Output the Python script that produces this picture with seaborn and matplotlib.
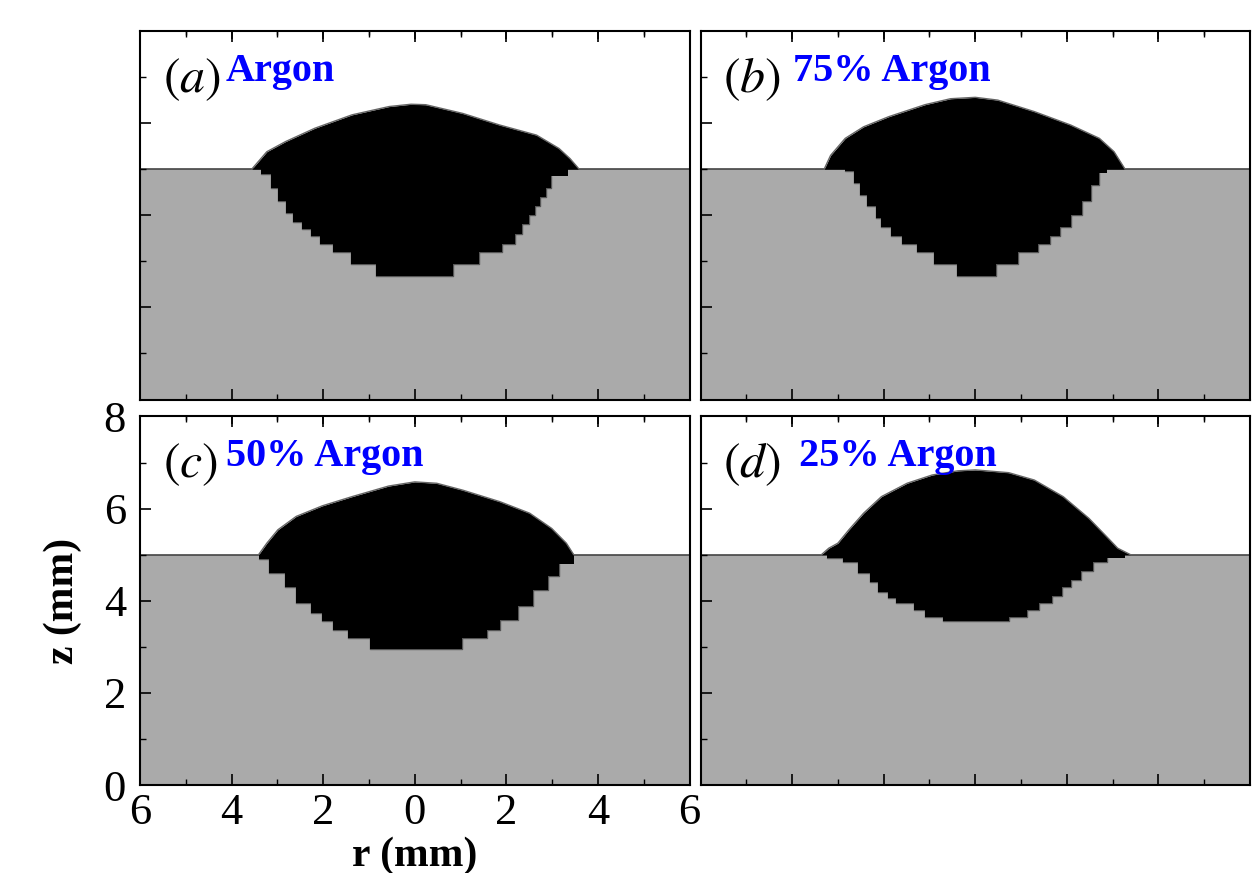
import matplotlib
matplotlib.use("Agg")
import matplotlib.pyplot as plt
import seaborn as sns
import numpy as np

# panel tags and shielding gas
panel_tags = ["(a)", "(b)", "(c)", "(d)"]
gas_names = ["Argon", "75% Argon", "50% Argon", "25% Argon"]

# crown (weld bead above the surface z=5)
crown_r_a = [-3.56, -3.23, -2.82, -2.18, -1.37, -0.56, -0.08, 0.24, 1.05, 1.85, 2.66, 3.15, 3.39, 3.59]
crown_z_a = [5.0, 5.38, 5.60, 5.89, 6.18, 6.36, 6.41, 6.40, 6.21, 5.96, 5.74, 5.45, 5.23, 5.0]
crown_r_b = [-3.30, -3.16, -2.84, -2.44, -1.89, -1.10, -0.54, 0.0, 0.49, 1.29, 2.08, 2.71, 3.03, 3.27]
crown_z_b = [5.0, 5.30, 5.67, 5.92, 6.14, 6.40, 6.53, 6.56, 6.50, 6.25, 5.96, 5.67, 5.38, 5.0]
crown_r_c = [-3.41, -3.23, -2.99, -2.59, -2.02, -1.37, -0.57, 0.0, 0.48, 1.05, 1.86, 2.51, 2.99, 3.31, 3.47]
crown_z_c = [5.0, 5.25, 5.54, 5.83, 6.06, 6.26, 6.49, 6.58, 6.55, 6.40, 6.15, 5.90, 5.57, 5.25, 5.0]
crown_r_d = [-3.36, -3.20, -3.00, -2.76, -2.44, -2.05, -1.49, -0.94, -0.38, 0.0, 0.73, 1.29, 1.92, 2.48, 2.87, 3.11, 3.39]
crown_z_d = [5.0, 5.14, 5.25, 5.54, 5.90, 6.26, 6.55, 6.73, 6.82, 6.84, 6.78, 6.62, 6.26, 5.79, 5.39, 5.14, 5.0]

# fusion zone below the surface (mesh cells, step profile)
pool_r_a = [-3.35, -3.15, -2.98, -2.82, -2.66, -2.46, -2.26, -2.06, -1.79, -1.39, -0.85, 0.83, 1.41, 1.90, 2.18, 2.35, 2.50, 2.62, 2.74, 2.86, 2.98, 3.35]
pool_z_a = [4.90, 4.60, 4.30, 4.05, 3.85, 3.71, 3.56, 3.38, 3.20, 2.94, 2.69, 2.94, 3.20, 3.38, 3.60, 3.80, 4.00, 4.20, 4.40, 4.60, 4.85, 5.0]
pool_r_b = [-2.84, -2.64, -2.52, -2.37, -2.17, -2.05, -1.85, -1.61, -1.27, -0.90, -0.40, 0.45, 0.93, 1.37, 1.64, 1.84, 2.08, 2.32, 2.52, 2.71, 2.87]
pool_z_b = [4.95, 4.70, 4.45, 4.20, 3.95, 3.74, 3.56, 3.38, 3.20, 2.94, 2.69, 2.94, 3.20, 3.38, 3.56, 3.74, 4.00, 4.30, 4.65, 4.92, 5.0]
pool_r_c = [-3.41, -3.19, -2.83, -2.59, -2.26, -2.02, -1.78, -1.45, -0.97, 1.03, 1.58, 1.86, 2.26, 2.59, 2.91, 3.15, 3.47]
pool_z_c = [4.90, 4.60, 4.30, 3.95, 3.73, 3.55, 3.37, 3.19, 2.95, 3.19, 3.37, 3.59, 3.88, 4.24, 4.53, 4.80, 5.0]
pool_r_d = [-3.24, -2.88, -2.56, -2.30, -2.13, -1.90, -1.73, -1.33, -1.10, -0.70, 0.73, 1.13, 1.40, 1.68, 1.90, 2.08, 2.30, 2.56, 2.87, 3.27]
pool_z_d = [4.93, 4.85, 4.60, 4.40, 4.20, 4.05, 3.95, 3.80, 3.65, 3.55, 3.65, 3.80, 3.95, 4.10, 4.30, 4.45, 4.65, 4.85, 4.93, 5.0]

x_ticks = [-6, -4, -2, 0, 2, 4, 6]
x_minor = [-5, -3, -1, 1, 3, 5]
x_tick_labels = ["6", "4", "2", "0", "2", "4", "6"]
y_ticks = [0, 2, 4, 6, 8]
y_minor = [1, 3, 5, 7]
surface_z = 5.0

crowns = [(crown_r_a, crown_z_a), (crown_r_b, crown_z_b), (crown_r_c, crown_z_c), (crown_r_d, crown_z_d)]
pools = [(pool_r_a, pool_z_a), (pool_r_b, pool_z_b), (pool_r_c, pool_z_c), (pool_r_d, pool_z_d)]

sns.set_theme(style="ticks")
plt.rcParams['font.family'] = ['Liberation Serif', 'DejaVu Serif']
plt.rcParams['mathtext.fontset'] = 'stix'
plt.rcParams['text.color'] = 'black'
plt.rcParams['axes.labelcolor'] = 'black'
plt.rcParams['axes.edgecolor'] = 'black'
plt.rcParams['axes.linewidth'] = 1.5
plt.rcParams['xtick.color'] = 'black'
plt.rcParams['ytick.color'] = 'black'
plt.rcParams['xtick.labelcolor'] = 'black'
plt.rcParams['ytick.labelcolor'] = 'black'
plt.rcParams['xtick.top'] = True
plt.rcParams['ytick.right'] = False
plt.rcParams['xtick.direction'] = 'in'
plt.rcParams['ytick.direction'] = 'in'
plt.rcParams['xtick.major.pad'] = 6
plt.rcParams['ytick.major.pad'] = 10
plt.rcParams['xtick.labelsize'] = 32
plt.rcParams['ytick.labelsize'] = 32

fig, axes = plt.subplots(2, 2, figsize=(12.59, 8.73), dpi=100)
fig.subplots_adjust(left=0.1112, right=0.9929, bottom=0.1008, top=0.9645,
                    wspace=0.02, hspace=0.046)

for i, ax in enumerate(axes.flat):
    ax.set_axisbelow(False)
    # workpiece
    ax.fill_between([-6, 6], 0, surface_z, color="#aaaaaa", lw=0, zorder=0.2)
    sns.lineplot(x=[-6, 6], y=[surface_z, surface_z], ax=ax, color="#444444",
                 lw=1.2, zorder=0.3, estimator=None, sort=False)

    cr, cz = crowns[i]
    pr, pz = pools[i]
    ax.fill_between(cr, surface_z, cz, color="black", lw=0, zorder=0.5)
    sns.lineplot(x=cr, y=cz, ax=ax, color="#666666", lw=1.0, zorder=0.6,
                 estimator=None, sort=False)
    ax.fill_between(pr, pz, surface_z, step="post", color="black", lw=0, zorder=0.5)
    sns.lineplot(x=pr[:-1], y=pz[:-1], ax=ax, color="#555555", lw=1.0, zorder=0.4,
                 estimator=None, sort=False, drawstyle="steps-post")

    ax.set_xlim(-6, 6)
    ax.set_ylim(0, 8)
    ax.set_xticks(x_ticks)
    ax.set_xticks(x_minor, minor=True)
    ax.set_yticks(y_ticks)
    ax.set_yticks(y_minor, minor=True)
    ax.tick_params(which="major", length=8, width=1.2, color="black", labelcolor="black")
    ax.tick_params(which="minor", length=4, width=1.0, color="black")

    # inward ticks along the top edge (axes-fraction length, x in data units)
    top_tf = ax.get_xaxis_transform()
    ax.vlines(x_ticks, 1 - 8 / 368, 1, transform=top_tf, colors="black",
              lw=1.2, zorder=4, clip_on=False)
    ax.vlines(x_minor, 1 - 4 / 368, 1, transform=top_tf, colors="black",
              lw=1.0, zorder=4, clip_on=False)

    if i == 2:
        ax.set_xticklabels(x_tick_labels)
        ax.set_xlabel("r (mm)", fontsize=30, fontweight="bold", labelpad=2)
        ax.set_ylabel("z (mm)", fontsize=30, fontweight="bold", labelpad=16)
    else:
        ax.set_xticklabels([])
        ax.set_yticklabels([])
        ax.set_xlabel("")
        ax.set_ylabel("")

    tag_x = -5.5
    name_x = [-4.12, -3.99, -4.12, -3.84][i]
    ax.text(tag_x, 6.68, "$" + panel_tags[i] + "$", fontsize=36, color="black",
            va="baseline", ha="left", zorder=5)
    ax.text(name_x, 6.92, gas_names[i], fontsize=29, fontweight="bold",
            color="#0000ff", va="baseline", ha="left", zorder=5)

fig.savefig("out.png", dpi=100)
plt.close(fig)
